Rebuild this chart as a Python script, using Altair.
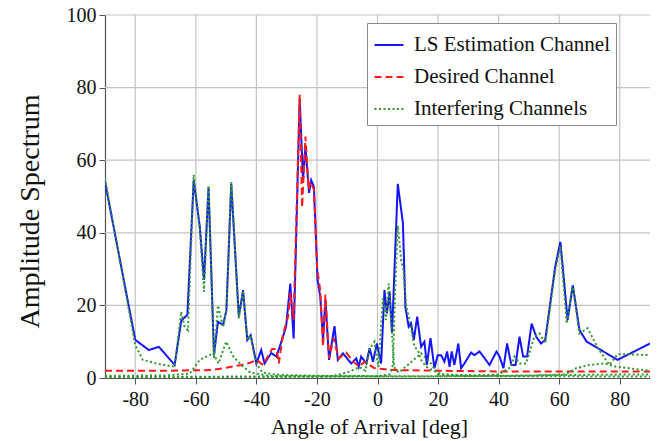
import altair as alt
import pandas as pd

# ---------------- data ----------------
blue_x = [-90, -80, -75.5, -72.2, -67, -64.8, -62.8, -60.7, -58.7, -57.3, -55.8, -54, -52.7, -51, -49.9,
          -48.3, -45.8, -44.4, -43, -41.9, -40, -38.4, -37.3, -35.1, -33.4, -32.3, -30.2, -28.8, -27.7,
          -25.7, -24.6, -23.8, -22.6, -21.9, -21, -19.8, -18.9, -18, -17.2, -16, -14.2, -13.1, -11.4,
          -8.7, -7, -6.2, -5.4, -3.7, -2.6, -1.5, -0.2, 1.2, 2.3, 3.1, 4, 4.8, 6.7, 8.4, 9.2, 10.3,
          11.1, 12, 13.1, 14.4, 15.5, 16.3, 17.5, 18.8, 19.9, 21, 22.1, 23, 23.8, 24.5, 25.4, 26.7,
          27.6, 28.7, 30.9, 32, 33.7, 37, 39.3, 40.3, 41.6, 42.8, 44.2, 45.6, 46.9, 48.1, 49.4, 50.9,
          52.4, 54, 55.4, 58.7, 60.4, 62.8, 64.5, 66.7, 69.1, 79.3, 90]
blue_y = [54, 10.5, 7.7, 8.6, 3.6, 15.8, 17.4, 54.5, 41.7, 27, 52.5, 6.3, 15.5, 14.6, 18.7,
          53.5, 16.9, 24.2, 10.5, 11.8, 4, 7.7, 4, 6.9, 5.9, 8.6, 14.1, 26, 10.9,
          77, 54.5, 63.7, 51, 54.5, 52.7, 27, 22.4, 10.5, 21.5, 5, 14.3, 5, 6.8,
          4, 5.4, 3.1, 5.9, 4, 8.2, 4.5, 9.5, 4, 24.2, 17.8, 23.8, 12.3, 53.5, 42.6, 19.6, 14.1,
          15, 10.5, 16.9, 8.6, 10, 3.6, 11, 2.7, 6.3, 6.3, 4.5, 7.3, 3.1, 7.3, 3.6, 9.5,
          2.7, 4, 7, 6.3, 7.3, 3.6, 7.3, 5.9, 2.7, 9.5, 3.6, 3.6, 11.4, 5.9, 5.9, 15,
          11.4, 9.5, 10.5, 30.7, 37.5, 16, 25.6, 13.2, 10, 5, 9.5]

red_x = [-90, -70, -55, -50, -45, -42, -40, -37.8, -34.8, -33.4, -32.6, -31.2, -29.5, -28.8, -27.7,
         -25.7, -24.9, -23.8, -22.7, -22.2, -21, -19.9, -18.9, -18, -17.2, -16, -14.5, -12.8, -10.3,
         -8, -6, -4.3, -1, 5, 20, 40, 60, 90]
red_y = [2, 2, 2.2, 2.8, 3.6, 4.2, 5, 3.6, 8, 8, 4, 12, 17, 23.5, 16,
         78, 47, 66.5, 52, 54, 52, 30, 24, 8.6, 23, 5.4, 11, 5.4, 7,
         4.5, 3.1, 4.5, 2.7, 2.2, 2, 1.8, 1.8, 1.8]

int1_x = [-90, -80, -77.5, -73, -67, -64.8, -63.7, -62.6, -60.7, -58.7, -57.3, -55.8, -54, -52.7, -51,
          -49.9, -48.3, -45.8, -44.4, -43, -41.9, -40, -38, -34, -30, -20, 0, 20, 40, 60, 90]
int1_y = [55, 9, 5, 4, 3.1, 18.3, 14.1, 13.2, 56, 41, 23.8, 53, 5.5, 20, 14,
          18.7, 54, 16.4, 24, 10.5, 11.8, 4, 1.5, 1, 0.8, 0.6, 0.5, 0.5, 0.6, 0.8, 1]

int2_x = [-90, -70, -62, -58.7, -54.3, -52.5, -50, -47.7, -45, -42, -36, -25, -10, 10, 30, 50, 62,
          65.6, 70, 75, 78.8, 90]
int2_y = [0.6, 0.7, 1.2, 5, 6.8, 4, 10, 6, 3.6, 1.5, 0.6, 0.4, 0.4, 0.4, 0.5, 0.6, 1,
          2.7, 3.6, 4, 3.1, 2]

int3_x = [-90, -40, -15, -10, -6, -4, -2.6, -1, 0.3, 1.8, 2.8, 3.7, 4.8, 5.5, 7, 12, 14.4, 17.2, 20,
          40, 90]
int3_y = [0.3, 0.4, 0.5, 1.5, 3, 2, 8, 10, 3, 22, 16, 26, 12, 3, 1.5, 5, 6.8, 4.5, 1,
          0.5, 0.4]

int4_x = [-90, -30, 0, 4, 5.1, 5.9, 6.7, 7.8, 8.6, 9.5, 10.6, 12.2, 13.3, 14.4, 16.1, 21, 30, 40, 44,
          45.2, 47, 49.1, 51.8, 53.5, 55.4, 58.7, 60.4, 62.5, 64.5, 66.7, 69.4, 73, 76.6, 79.3, 89.8]
int4_y = [0.2, 0.3, 0.5, 1, 3.6, 26, 42, 32.5, 29.7, 19.6, 16, 8.6, 7.7, 5, 3.1, 1, 0.6, 1, 3,
          5.9, 4, 4, 11.4, 12.3, 9.5, 29.7, 36.2, 15, 25.6, 12.3, 13.7, 8, 3.6, 6.6, 6.3]

names = ["LS Estimation Channel", "Desired Channel", "Interfering Channels"]
x_ticks = [-80, -60, -40, -20, 0, 20, 40, 60, 80]
y_ticks = [0, 20, 40, 60, 80, 100]


def frame(xs, ys, kind, series):
    return pd.DataFrame({"angle": xs, "amp": ys, "type": kind, "series": series})


df_blue = frame(blue_x, blue_y, names[0], "ls")
df_red = frame(red_x, red_y, names[1], "des")
df_green = pd.concat([
    frame(int1_x, int1_y, names[2], "i1"),
    frame(int2_x, int2_y, names[2], "i2"),
    frame(int3_x, int3_y, names[2], "i3"),
    frame(int4_x, int4_y, names[2], "i4"),
])

FONT = "Times New Roman, Liberation Serif, DejaVu Serif, serif"
GRID = "#c4c4c4"

legend = alt.Legend(
    title=None, orient="none", legendX=262, legendY=8,
    fillColor="white", strokeColor="#8a8a8a", padding=6,
    labelFont=FONT, labelFontSize=21, labelColor="#111", labelLimit=400,
    symbolType="stroke", symbolSize=841, symbolStrokeWidth=2.2,
    rowPadding=6, labelOffset=9,
)

color_scale = alt.Scale(domain=names, range=["#1414ff", "#ff1a1a", "#2e9a2e"])
dash_scale = alt.Scale(domain=names, range=[[1, 0], [7, 4], [2, 2.5]])

x_enc = alt.X("angle:Q", scale=alt.Scale(domain=[-90, 90], nice=False),
              axis=alt.Axis(values=x_ticks, grid=False, title="Angle of Arrival [deg]",
                            labelFont=FONT, titleFont=FONT, titleFontSize=22, titleX=264,
                            labelExpr="'' + datum.value"))
y_enc = alt.Y("amp:Q", scale=alt.Scale(domain=[0, 100], nice=False),
              axis=alt.Axis(values=y_ticks, grid=False, title="Amplitude Spectrum",
                            labelFont=FONT, titleFont=FONT, titleFontSize=28, titleY=196,
                            labelExpr="'' + datum.value"))
c_enc = alt.Color("type:N", scale=color_scale, legend=legend, sort=names)
d_enc = alt.StrokeDash("type:N", scale=dash_scale, legend=legend, sort=names)

# grid lines drawn from the tick lists
vgrid = alt.Chart(pd.DataFrame({"angle": x_ticks})).mark_rule(
    color=GRID, strokeWidth=1.2).encode(x=x_enc)
hgrid = alt.Chart(pd.DataFrame({"amp": y_ticks[1:]})).mark_rule(
    color=GRID, strokeWidth=1.2).encode(y=y_enc)


def layer(df):
    return alt.Chart(df).mark_line(strokeWidth=2, clip=True).encode(
        x=x_enc, y=y_enc, color=c_enc, strokeDash=d_enc, detail="series:N"
    )


chart = alt.layer(vgrid, hgrid, layer(df_blue), layer(df_red), layer(df_green)).properties(
    width=545, height=363,
    autosize=alt.AutoSizeParams(type="none"),
    padding={"left": 105, "top": 15, "right": 11, "bottom": 63},
).configure(font=FONT).configure_view(strokeWidth=0).configure_axis(
    labelFont=FONT, labelFontSize=20, labelColor="#111",
    titleFont=FONT, titleFontWeight="normal", titleColor="#111",
    domainColor="#555", tickColor="#555", tickSize=6, domainWidth=1.2,
).configure_axisX(labelPadding=5, titlePadding=7).configure_axisY(labelPadding=3, titlePadding=22)

chart.save("out.html", embed_options={"renderer": "svg", "actions": False})
